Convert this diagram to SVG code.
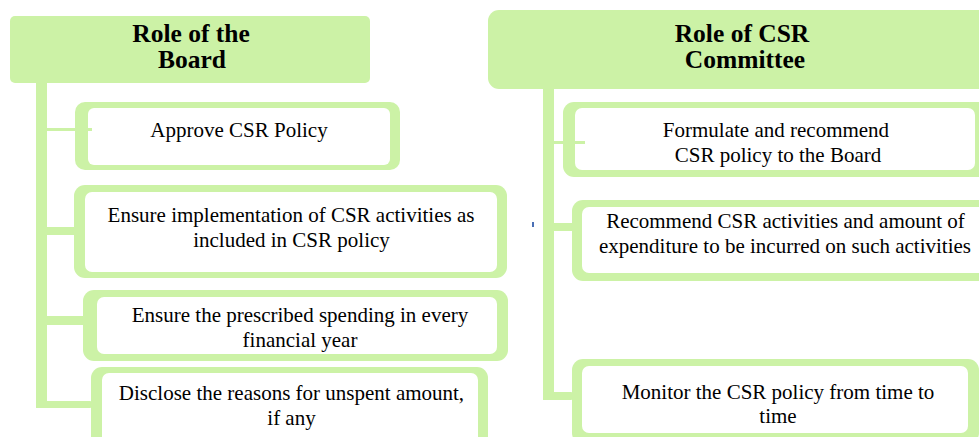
<svg xmlns="http://www.w3.org/2000/svg" width="979" height="437" viewBox="0 0 979 437">
<style>
.g{fill:#ccf2a6}
.w{fill:#ffffff}
.h{font-family:"Liberation Serif","Times New Roman",serif;font-weight:bold;font-size:25.5px;fill:#000;text-anchor:middle}
.t{font-family:"Liberation Serif","Times New Roman",serif;font-size:21px;fill:#000;text-anchor:middle}
</style>
<rect width="979" height="437" fill="#ffffff"/>
<g id="board-header">
<rect class="g" x="10" y="16" width="360" height="67" rx="5"/>
<text class="h" x="191" y="41.5">Role of the</text>
<text class="h" x="192" y="68">Board</text>
</g>
<g id="committee-header">
<rect class="g" x="488" y="10" width="512" height="79" rx="11"/>
<text class="h" x="742" y="41.5">Role of CSR</text>
<text class="h" x="745" y="68">Committee</text>
</g>
<g id="board-1">
<rect class="g" x="75" y="102" width="325" height="68" rx="10"/>
<rect class="w" x="88" y="108" width="302" height="57" rx="6"/>
<text class="t" x="239" y="137">Approve CSR Policy</text>
</g>
<g id="board-2">
<rect class="g" x="74" y="185" width="433" height="93" rx="11"/>
<rect class="w" x="85" y="192" width="412" height="80" rx="7"/>
<text class="t" x="291" y="221.5">Ensure implementation of CSR activities as</text>
<text class="t" x="291.5" y="246.5">included in CSR policy</text>
</g>
<g id="board-3">
<rect class="g" x="83" y="290" width="425" height="71" rx="11"/>
<rect class="w" x="97" y="297" width="400" height="57" rx="7"/>
<text class="t" x="300" y="321.5">Ensure the prescribed spending in every</text>
<text class="t" x="300" y="346.5">financial year</text>
</g>
<g id="board-4">
<rect class="g" x="91" y="367" width="397" height="85" rx="11"/>
<rect class="w" x="102" y="373" width="376" height="75" rx="7"/>
<text class="t" x="291.5" y="400">Disclose the reasons for unspent amount,</text>
<text class="t" x="291.5" y="424.5">if any</text>
</g>
<g id="committee-1">
<rect class="g" x="563" y="102" width="427" height="75" rx="11"/>
<rect class="w" x="575" y="108" width="400" height="62" rx="7"/>
<text class="t" x="776" y="136.5">Formulate and recommend</text>
<text class="t" x="778" y="161.5">CSR policy to the Board</text>
</g>
<g id="committee-2">
<rect class="g" x="572" y="200" width="425" height="81" rx="11"/>
<rect class="w" x="582" y="207" width="403" height="66" rx="7"/>
<text class="t" x="785.5" y="228">Recommend CSR activities and amount of</text>
<text class="t" x="785" y="253">expenditure to be incurred on such activities</text>
</g>
<g id="committee-3">
<rect class="g" x="572" y="359" width="407" height="85" rx="11"/>
<rect class="w" x="582" y="366" width="386" height="67" rx="7"/>
<text class="t" x="778" y="398.5">Monitor the CSR policy from time to</text>
<text class="t" x="778" y="423">time</text>
</g>
<g id="connectors">
<rect class="g" x="36" y="83" width="11" height="325"/>
<rect class="g" x="47" y="128" width="45" height="3"/>
<rect class="g" x="47" y="227" width="28" height="8"/>
<rect class="g" x="47" y="316" width="37" height="9"/>
<rect class="g" x="36" y="401" width="56" height="7" rx="2"/>
<rect class="g" x="543" y="89" width="11" height="311"/>
<rect class="g" x="554" y="141" width="31" height="3"/>
<rect class="g" x="554" y="223" width="19" height="8"/>
<rect class="g" x="543" y="392" width="30" height="8" rx="2"/>
</g>
<rect x="532" y="222" width="2" height="5" fill="#4a6fb5"/>
</svg>
